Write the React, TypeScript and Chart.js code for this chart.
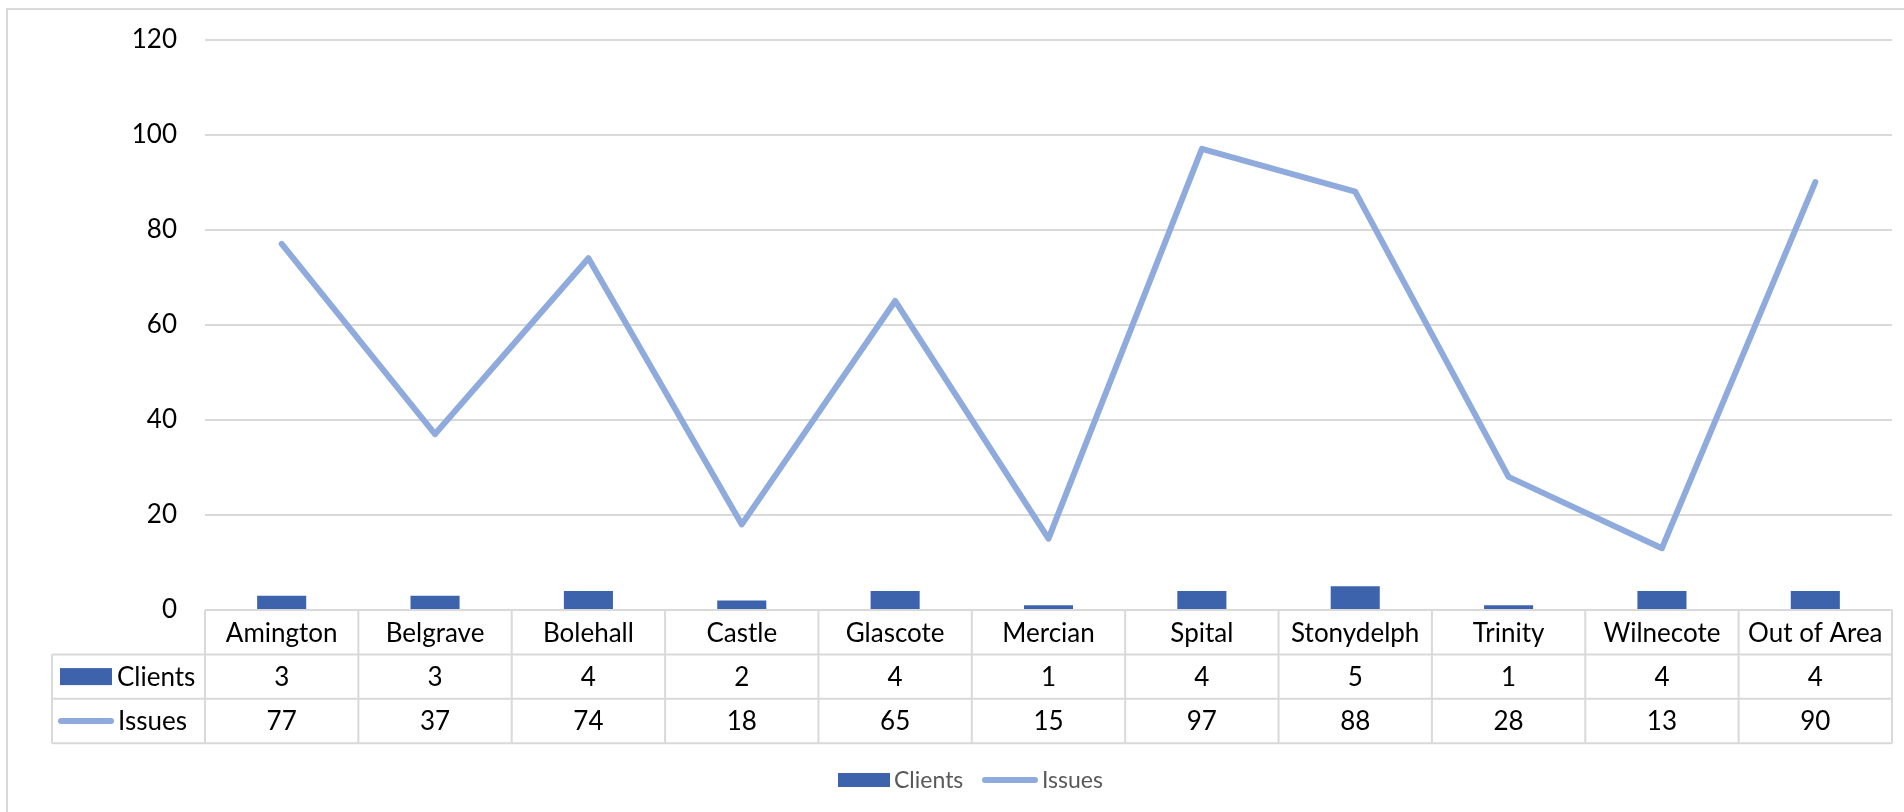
import React, { useEffect, useRef } from "react";
import { Chart, registerables } from "chart.js";

Chart.register(...registerables);

const categories = ["Amington", "Belgrave", "Bolehall", "Castle", "Glascote", "Mercian", "Spital", "Stonydelph", "Trinity", "Wilnecote", "Out of Area"];
const clients = [3, 3, 4, 2, 4, 1, 4, 5, 1, 4, 4];
const issues = [77, 37, 74, 18, 65, 15, 97, 88, 28, 13, 90];
const yTicks = [0, 20, 40, 60, 80, 100, 120];

const BAR_COLOR = "#3D63AD";
const LINE_COLOR = "#8FAADC";
const GRID = "#D9D9D9";
const FONT = "Lato, 'Open Sans', sans-serif";

const tablePlugin = {
  id: "dataTable",
  beforeDraw(chart: any) {
    const ctx = chart.ctx;
    ctx.save();
    ctx.fillStyle = "#ffffff";
    ctx.fillRect(0, 0, chart.width, chart.height);
    ctx.strokeStyle = GRID;
    ctx.lineWidth = 2;
    ctx.beginPath();
    ctx.moveTo(7, chart.height);
    ctx.lineTo(7, 9);
    ctx.lineTo(chart.width, 9);
    ctx.stroke();
    ctx.restore();
  },
  afterDraw(chart: any) {
    const ctx = chart.ctx;
    const area = chart.chartArea;
    const xs = chart.scales.x;
    const n = categories.length;
    const cw = (area.right - area.left) / n;
    const rowH = 44.4;
    const top = area.bottom;
    const r1 = top + rowH;
    const r2 = top + rowH * 2;
    const r3 = top + rowH * 3;
    const legLeft = 52;
    ctx.save();
    ctx.strokeStyle = GRID;
    ctx.lineWidth = 2;
    ctx.beginPath();
    ctx.moveTo(area.left, top); ctx.lineTo(area.right, top);
    [r1, r2, r3].forEach((y) => { ctx.moveTo(legLeft, y); ctx.lineTo(area.right, y); });
    for (let i = 0; i <= n; i++) {
      const x = area.left + i * cw;
      ctx.moveTo(x, top); ctx.lineTo(x, r3);
    }
    ctx.moveTo(legLeft, r1); ctx.lineTo(legLeft, r3);
    ctx.stroke();

    ctx.fillStyle = "#000000";
    ctx.font = `26px ${FONT}`;
    ctx.textAlign = "center";
    ctx.textBaseline = "middle";
    for (let i = 0; i < n; i++) {
      const cx = xs.getPixelForValue(i);
      ctx.fillText(categories[i], cx, (top + r1) / 2 + 1);
      ctx.fillText(String(clients[i]), cx, (r1 + r2) / 2 + 1);
      ctx.fillText(String(issues[i]), cx, (r2 + r3) / 2 + 1);
    }
    ctx.textAlign = "left";
    ctx.fillStyle = BAR_COLOR;
    ctx.fillRect(60, (r1 + r2) / 2 - 8.5, 52, 17);
    ctx.fillStyle = "#000000";
    ctx.fillText(chart.data.datasets[0].label, 117, (r1 + r2) / 2 + 1);
    ctx.strokeStyle = LINE_COLOR;
    ctx.lineWidth = 6;
    ctx.lineCap = "round";
    ctx.beginPath();
    ctx.moveTo(61, (r2 + r3) / 2);
    ctx.lineTo(111, (r2 + r3) / 2);
    ctx.stroke();
    ctx.fillText(chart.data.datasets[1].label, 118, (r2 + r3) / 2 + 1);

    const ly = 780;
    ctx.font = `23px ${FONT}`;
    ctx.fillStyle = BAR_COLOR;
    ctx.fillRect(838, ly - 7, 52, 14);
    ctx.fillStyle = "#595959";
    ctx.fillText(chart.data.datasets[0].label, 894, ly + 1);
    ctx.strokeStyle = LINE_COLOR;
    ctx.lineWidth = 6;
    ctx.beginPath();
    ctx.moveTo(985, ly);
    ctx.lineTo(1035, ly);
    ctx.stroke();
    ctx.fillText(chart.data.datasets[1].label, 1042, ly + 1);
    ctx.restore();
  },
};

export default function App() {
  const ref = useRef<HTMLCanvasElement | null>(null);
  useEffect(() => {
    if (!ref.current) return;
    const chart = new Chart(ref.current, {
      type: "bar",
      data: {
        labels: categories,
        datasets: [
          {
            type: "bar",
            label: "Clients",
            data: clients,
            backgroundColor: BAR_COLOR,
            categoryPercentage: 1,
            barPercentage: 0.32,
            order: 1,
          },
          {
            type: "line",
            label: "Issues",
            data: issues,
            borderColor: LINE_COLOR,
            backgroundColor: LINE_COLOR,
            borderWidth: 6,
            borderCapStyle: "round",
            borderJoinStyle: "round",
            pointRadius: 0,
            tension: 0,
            order: 0,
          },
        ],
      } as any,
      options: {
        responsive: false,
        animation: false,
        layout: { padding: { left: 0, top: 39.5, right: 12, bottom: 812 - 610 } },
        plugins: { legend: { display: false }, tooltip: { enabled: false } },
        scales: {
          x: { display: false, offset: true },
          y: {
            min: 0,
            max: 120,
            afterFit: (s: any) => { s.width = 205; },
            afterBuildTicks: (s: any) => { s.ticks = yTicks.map((v) => ({ value: v })); },
            ticks: { padding: 0, color: "#000000", font: { family: FONT, size: 26 } },
            grid: { color: GRID, lineWidth: 2, drawTicks: true, tickLength: 28, tickColor: "rgba(0,0,0,0)" },
            border: { display: false },
          },
        },
      } as any,
      plugins: [tablePlugin],
    });
    return () => chart.destroy();
  }, []);
  return (
    <canvas
      ref={ref}
      width={1904}
      height={812}
      style={{ position: "fixed", left: 0, top: 0, width: 1904, height: 812 }}
    />
  );
}
